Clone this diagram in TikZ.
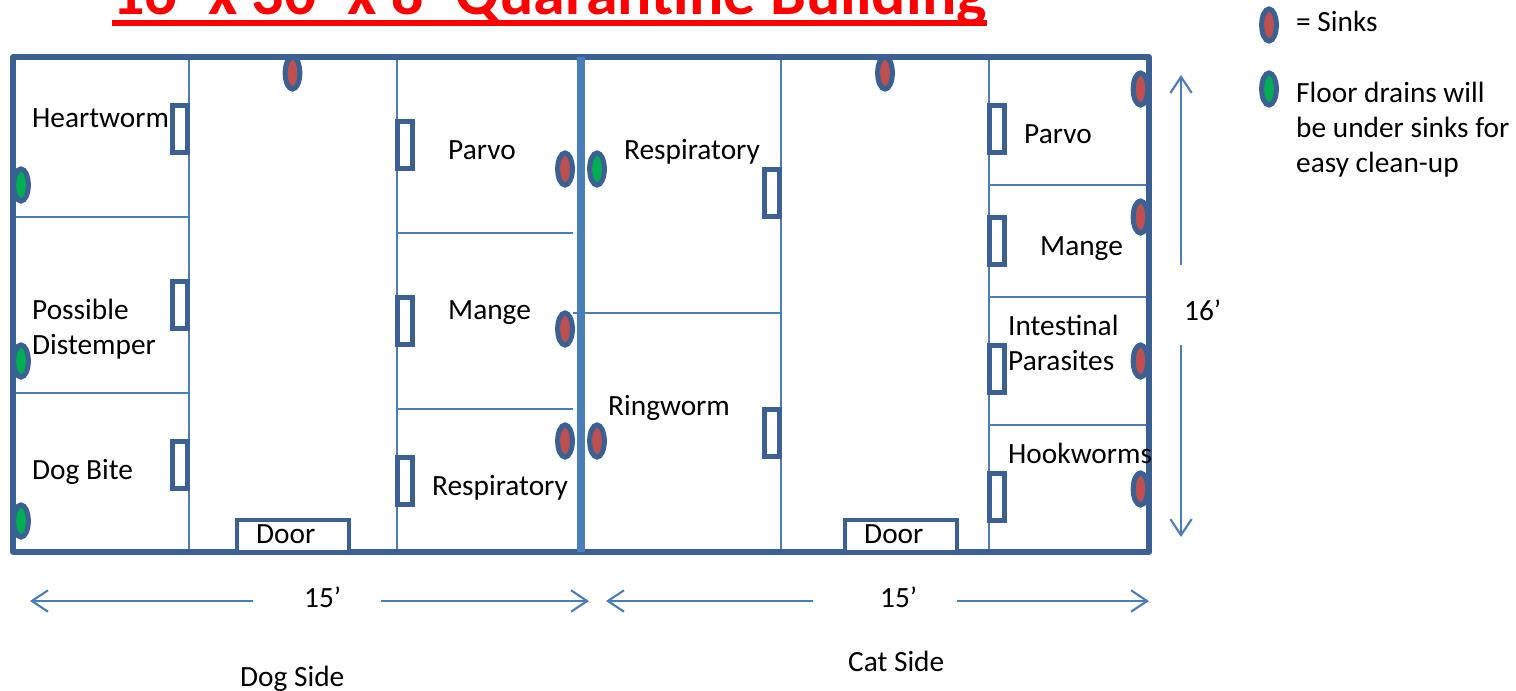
\documentclass[tikz,border=0pt]{standalone}
\usepackage{fontspec}
\setmainfont{Carlito}
\usetikzlibrary{arrows.meta,shapes.geometric,calc}
\definecolor{wall}{HTML}{3B6194}
\definecolor{inner}{HTML}{4A7EBB}
\definecolor{sinkred}{HTML}{C0504D}
\definecolor{draingreen}{HTML}{00B050}
\tikzset{
  x=0.75pt,y=-0.75pt,
  lbl/.style={anchor=base west,inner sep=0pt,outer sep=0pt,xshift=-0.6pt,yshift=-1.2pt,font=\fontsize{22}{26.25}\selectfont,align=left,text=black},
  thinwall/.style={draw=inner,line width=2.2pt},
  sinkdot/.style={ellipse,draw=wall,line width=3.8pt,fill=sinkred,minimum width=11pt,minimum height=24pt,inner sep=0pt},
  draindot/.style={sinkdot,fill=draingreen},
  doorbox/.style={rectangle,draw=wall,line width=3.8pt,fill=white,minimum width=11.5pt,minimum height=35pt,inner sep=0pt},
  entry/.style={rectangle,draw=wall,line width=3.4pt,fill=white,minimum width=84pt,minimum height=24pt,inner sep=0pt},
  dim/.style={draw=inner,line width=1.6pt,-{Straight Barb[length=12pt,width=16pt,line width=1.6pt]}},
}
\begin{document}
\begin{tikzpicture}
\useasboundingbox (0,0) rectangle (1516,690);
\node[inner sep=0pt,anchor=base west,text=red,font=\fontsize{48}{56}\selectfont\bfseries] (title) at (112,14) {16’ x 30’ x 8’ Quarantine Building};
\fill[red] ($(title.base west)+(0,6)$) rectangle ($(title.base east)+(0,11.5)$);

% inner partitions
\coordinate (tl) at (13,57); \coordinate (br) at (1149,552);
\foreach \n/\xx in {a/189,b/397,c/781,d/989}{
  \coordinate (\n t) at (\xx,57); \coordinate (\n b) at (\xx,552);
  \draw[thinwall] (\n t) -- (\n b);
}
\foreach \n/\xa/\xb/\yy in {p/13/189/217,q/13/189/393,r/397/573/233,s/397/573/409,u/573/781/313,v/989/1149/185,w/989/1149/297,z/989/1149/425}{
  \coordinate (\n l) at (\xa,\yy); \coordinate (\n r) at (\xb,\yy);
  \draw[thinwall] (\n l) -- (\n r);
}
% outer wall
\draw[wall,line width=4pt,line join=round] (tl) rectangle (br);
\coordinate (mt) at (581,57); \coordinate (mb) at (581,552);
\draw[inner,line width=6pt] (mt) -- (mb);

% room doors
\foreach \n/\xx/\yy in {d1/180/129,d2/180/305,d3/180/465,d4/405/145,d5/405/321,d6/405/481,d7/772/193,d8/772/433,d9/997/129,d10/997/241,d11/997/369,d12/997/497}{
  \node[doorbox] (\n) at (\xx,\yy) {};
}
\node[entry] (door1) at (293,536) {};
\node[entry] (door2) at (901,536) {};

% sinks and drains
\foreach \n/\xx/\yy in {s1/292.5/73,s2/565/169,s3/565/329,s4/565/441,s5/597/441,s6/885/73,s7/1140.5/89,s8/1140.5/217,s9/1140.5/361,s10/1140.5/489,s11/1269/25}{
  \node[sinkdot] (\n) at (\xx,\yy) {};
}
\foreach \n/\xx/\yy in {g1/21/185,g2/21/361,g3/21/521,g4/597/169,g5/1269/89}{
  \node[draindot] (\n) at (\xx,\yy) {};
}

% labels
\node[lbl] (t1) at (33,126) {Heartworm};
\node[lbl] (t2) at (33,318) {Possible};
\node[lbl] (t2b) at (33,353) {Distemper};
\node[lbl] (t3) at (33,478) {Dog Bite};
\node[lbl] (t4) at (449,158) {Parvo};
\node[lbl] (t5) at (449,318) {Mange};
\node[lbl] (t6) at (433,494) {Respiratory};
\node[lbl] (t7) at (625,158) {Respiratory};
\node[lbl] (t8) at (609,414) {Ringworm};
\node[lbl] (t9) at (1025,142) {Parvo};
\node[lbl] (t10) at (1041,254) {Mange};
\node[lbl] (t11) at (1009,334) {Intestinal};
\node[lbl] (t11b) at (1009,369) {Parasites};
\node[lbl] (t12) at (1009,462) {Hookworms};
\node[lbl] (t13) at (257,542) {Door};
\node[lbl] (t14) at (865,542) {Door};
\node[lbl] (t15) at (305,606) {15’};
\node[lbl] (t16) at (881,606) {15’};
\node[lbl] (t17) at (1185,319) {16’};
\node[lbl] (t18) at (241,685) {Dog Side};
\node[lbl] (t19) at (849,670) {Cat Side};
\node[lbl] (t20) at (1297,30) {= Sinks};
\node[lbl] (t21) at (1297,101) {Floor drains will};
\node[lbl] (t22) at (1297,136) {be under sinks for};
\node[lbl] (t23) at (1297,171) {easy clean-up};

% dimension arrows
\coordinate (a1s) at (253,601); \coordinate (a1e) at (30,601);
\coordinate (a2s) at (381,601); \coordinate (a2e) at (589,601);
\coordinate (a3s) at (813,601); \coordinate (a3e) at (606,601);
\coordinate (a4s) at (957,601); \coordinate (a4e) at (1149,601);
\coordinate (a5s) at (1181,265); \coordinate (a5e) at (1181,75);
\coordinate (a6s) at (1181,345); \coordinate (a6e) at (1181,537);
\foreach \k in {1,...,6}{ \draw[dim] (a\k s) -- (a\k e); }
\end{tikzpicture}
\end{document}
